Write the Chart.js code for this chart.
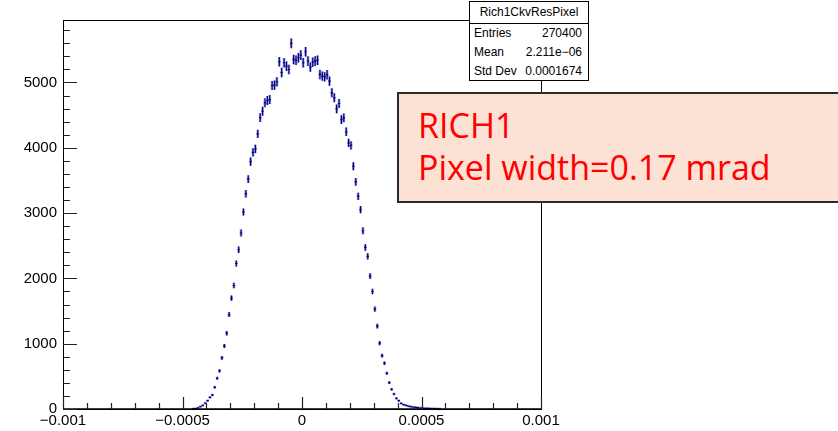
<!DOCTYPE html>
<html>
<head>
<meta charset="utf-8">
<script src="https://cdn.jsdelivr.net/npm/chart.js@4.4.1/dist/chart.umd.min.js"></script>
<style>
html,body{margin:0;padding:0;background:#fff;overflow:hidden;}
#wrap{position:relative;width:838px;height:431px;}
#stats{position:absolute;left:469px;top:1px;width:120px;height:80px;border:1px solid #000;background:#fff;
  box-sizing:border-box;font-family:"Liberation Sans",Arial,sans-serif;font-size:12px;color:#000;}
#stats .title{height:21px;line-height:21px;text-align:center;border-bottom:1px solid #000;}
#stats .row{height:19px;line-height:19px;display:flex;justify-content:space-between;padding:0 6px 0 4px;}
#note{position:absolute;left:397px;top:92px;width:470px;height:111px;box-sizing:border-box;border:2px solid #2b2b2b;
  background:#fbe2d5;color:#ff0000;font-family:"Open Sans",sans-serif;font-size:34px;line-height:42px;padding:10px 0 0 19px;}
</style>
</head>
<body>
<div id="wrap">
  <canvas id="c" width="838" height="431"></canvas>
  <div id="stats"></div>
  <div id="note"></div>
</div>
<script>
// histogram: 200 bins over [-0.001, 0.001], only the filled ones listed
var xMin = -0.001, xMax = 0.001, binWidth = 0.00001;
var firstBin = 53;
var counts = [
  0, 2, 5, 18, 35, 57, 90, 127, 179, 215,
  333, 471, 583, 782, 966, 1161, 1446, 1698, 1891, 2228,
  2439, 2695, 3017, 3298, 3520, 3788, 3931, 3983, 4213, 4463,
  4560, 4689, 4724, 4739, 4954, 4959, 5011, 5317, 5153, 5302,
  5250, 5199, 5598, 5353, 5342, 5379, 5419, 5302, 5471, 5327,
  5235, 5311, 5327, 5342, 5123, 5097, 5087, 5118, 5020, 4842,
  4765, 4597, 4678, 4432, 4459, 4244, 4075, 4038, 3719, 3477,
  3256, 3052, 2730, 2474, 2336, 2035, 1799, 1529, 1268, 1008,
  818, 701, 548, 403, 302, 230, 164, 127, 87, 66,
  57, 45, 35, 30, 26, 20, 15, 13, 11, 10,
  8, 6, 5, 3, 1
];
var yMax = 5957;
var xTickValues = [-0.001, -0.0005, 0, 0.0005, 0.001];
var xTickLabels = ['\u22120.001', '\u22120.0005', '0', '0.0005', '0.001'];
var yTickValues = [0, 1000, 2000, 3000, 4000, 5000];
var yTickLabels = ['0', '1000', '2000', '3000', '4000', '5000'];

var statsTitle = 'Rich1CkvResPixel';
var statsNames = ['Entries', 'Mean', 'Std Dev'];
var statsValues = ['270400', '2.211e\u221206', '0.0001674'];
var noteLines = ['RICH1', 'Pixel width=0.17 mrad'];

var points = counts.map(function(n, i){
    return {x: xMin + (firstBin + i + 0.5) * binWidth, y: n};
});

function nearIdx(list, v, eps){
    for(var i=0;i<list.length;i++){ if(Math.abs(list[i]-v) < eps) return i; }
    return -1;
}

var rootFrame = {
    id: 'rootFrame',
    afterDatasetsDraw: function(chart){
        var ctx = chart.ctx, a = chart.chartArea;
        var xs = chart.scales.x, ys = chart.scales.y;
        ctx.save();
        // error bars
        [['rgba(70,70,210,0.45)', 2.8], ['#00007a', 1.2]].forEach(function(st){
            ctx.strokeStyle = st[0];
            ctx.lineWidth = st[1];
            ctx.beginPath();
            points.forEach(function(p){
                if(p.y <= 0) return;
                var e = Math.sqrt(p.y);
                var px = xs.getPixelForValue(p.x);
                var py = ys.getPixelForValue(p.y);
                ctx.moveTo(px, ys.getPixelForValue(p.y + e));
                ctx.lineTo(px, ys.getPixelForValue(Math.max(0, p.y - e)));
                ctx.moveTo(xs.getPixelForValue(p.x - binWidth/2), py);
                ctx.lineTo(xs.getPixelForValue(p.x + binWidth/2), py);
            });
            ctx.stroke();
        });
        // frame
        ctx.strokeStyle = '#000';
        ctx.lineWidth = 1;
        ctx.strokeRect(Math.round(a.left)+0.5, Math.round(a.top)+0.5, Math.round(a.right-a.left), Math.round(a.bottom-a.top));
        ctx.lineWidth = 1.5;
        ctx.beginPath();
        ctx.moveTo(a.left, a.bottom); ctx.lineTo(a.right, a.bottom);
        ctx.stroke();
        // ticks inside the frame
        ctx.lineWidth = 1.2;
        ctx.strokeStyle = '#222';
        ctx.beginPath();
        xs.ticks.forEach(function(t){
            var px = Math.round(xs.getPixelForValue(t.value)) + 0.5;
            var len = nearIdx(xTickValues, t.value, 1e-9) >= 0 ? 12 : 6;
            ctx.moveTo(px, a.bottom); ctx.lineTo(px, a.bottom - len);
        });
        ys.ticks.forEach(function(t){
            var py = Math.round(ys.getPixelForValue(t.value)) + 0.5;
            var len = nearIdx(yTickValues, t.value, 1e-6) >= 0 ? 14 : 7;
            ctx.moveTo(a.left, py); ctx.lineTo(a.left + len, py);
        });
        ctx.stroke();
        ctx.restore();
    }
};

var tickFont = {family: '"Liberation Sans", Arial, sans-serif', size: 15};

new Chart(document.getElementById('c'), {
    type: 'scatter',
    data: {
        datasets: [{
            data: points,
            pointRadius: 0,
            showLine: false
        }]
    },
    options: {
        responsive: false,
        animation: false,
        events: [],
        layout: {padding: {top: 20, right: 297, left: 0, bottom: 0}},
        plugins: {legend: {display: false}, tooltip: {enabled: false}},
        scales: {
            x: {
                type: 'linear', min: xMin, max: xMax,
                grid: {display: false, drawTicks: false},
                border: {display: false},
                afterBuildTicks: function(s){
                    var t = [];
                    for(var i=-10;i<=10;i++) t.push({value: i/10000});
                    s.ticks = t;
                },
                ticks: {
                    autoSkip: false, maxRotation: 0, padding: 3, color: '#000', font: tickFont,
                    callback: function(v){
                        var i = nearIdx(xTickValues, v, 1e-9);
                        return i >= 0 ? xTickLabels[i] : '';
                    }
                },
                afterFit: function(s){ s.height = 22; }
            },
            y: {
                min: 0, max: yMax,
                grid: {display: false, drawTicks: false},
                border: {display: false},
                afterBuildTicks: function(s){
                    var t = [];
                    for(var v=0; v<=5800; v+=200) t.push({value: v});
                    s.ticks = t;
                },
                ticks: {
                    autoSkip: false, padding: 6, color: '#000', font: tickFont,
                    callback: function(v){
                        var i = nearIdx(yTickValues, v, 1e-6);
                        return i >= 0 ? yTickLabels[i] : '';
                    }
                },
                afterFit: function(s){ s.width = 63; }
            }
        }
    },
    plugins: [rootFrame]
});

var stats = document.getElementById('stats');
var ti = document.createElement('div');
ti.className = 'title';
ti.textContent = statsTitle;
stats.appendChild(ti);
statsNames.forEach(function(n, i){
    var r = document.createElement('div');
    r.className = 'row';
    var a = document.createElement('span'); a.textContent = n;
    var b = document.createElement('span'); b.textContent = statsValues[i];
    r.appendChild(a); r.appendChild(b);
    stats.appendChild(r);
});

var note = document.getElementById('note');
noteLines.forEach(function(l){
    var d = document.createElement('div');
    d.textContent = l;
    note.appendChild(d);
});
</script>
</body>
</html>
